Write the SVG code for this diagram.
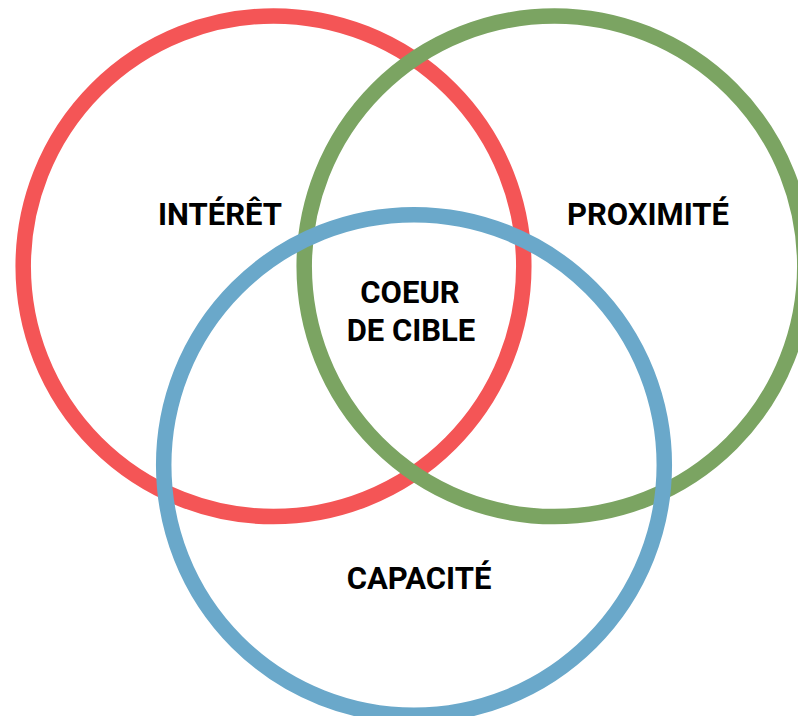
<svg xmlns="http://www.w3.org/2000/svg" width="798" height="716" viewBox="0 0 798 716">
  <style>
    .ring { fill: none; stroke-width: 15.5; }
    .lbl { font-family: Roboto, "Liberation Sans", sans-serif; font-weight: 700; font-size: 31px; fill: #000; text-anchor: middle; }
  </style>
  <rect width="798" height="716" fill="#ffffff"/>
  <g id="interet">
    <circle class="ring" cx="273.5" cy="266.3" r="250.3" stroke="#f45556"/>
    <text class="lbl" x="220" y="225">INTÉRÊT</text>
  </g>
  <g id="proximite">
    <circle class="ring" cx="554.5" cy="266.3" r="250.3" stroke="#7ba462"/>
    <text class="lbl" x="648" y="225">PROXIMITÉ</text>
  </g>
  <g id="capacite">
    <circle class="ring" cx="414" cy="465" r="250.3" stroke="#6aa8ca"/>
    <text class="lbl" x="419" y="589">CAPACITÉ</text>
  </g>
  <g id="coeur">
    <text class="lbl" x="410" y="302.5">COEUR</text>
    <text class="lbl" x="411" y="341">DE CIBLE</text>
  </g>
  <g id="connectors"/>
</svg>
